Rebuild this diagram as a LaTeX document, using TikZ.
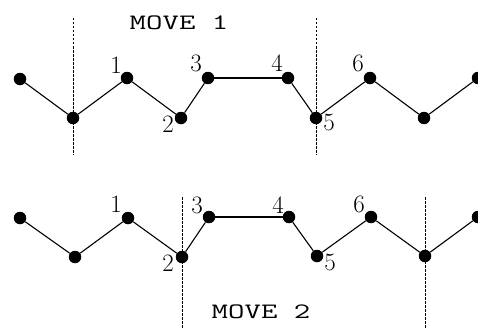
\documentclass[tikz,border=0pt]{standalone}
\usepackage{fontspec}
\usepackage{graphicx}
\begin{document}
\begin{tikzpicture}[x=1pt,y=-1pt,
  dot/.style={circle,fill=black,inner sep=0pt,minimum size=12.5pt},
  link/.style={line width=1.1pt},
  heavylink/.style={line width=2.3pt},
  cutline/.style={line width=1pt,dash pattern=on 2.5pt off 1.5pt},
  num/.style={inner sep=0pt,font=\fontsize{25}{25}\selectfont\addfontfeature{FakeBold=0.7}},
  title/.style={inner sep=0pt,font=\fontsize{22}{22}\selectfont\ttfamily\addfontfeature{FakeBold=1.2}}]
\useasboundingbox (0,0) rectangle (478,329);

% ---- first chain: cut lines
\coordinate (c1t) at (73,18);  \coordinate (c1b) at (73,155);
\coordinate (c2t) at (316,18); \coordinate (c2b) at (316,155);
\draw[cutline] (c1t) -- (c1b);
\draw[cutline] (c2t) -- (c2b);

% ---- first chain: beads
\node[dot] (a0) at (20,79) {};
\node[dot] (a1) at (73,118) {};
\node[dot] (a2) at (127,78) {};
\node[dot] (a3) at (181,118) {};
\node[dot] (a4) at (208,78) {};
\node[dot] (a5) at (288,78) {};
\node[dot] (a6) at (316,118) {};
\node[dot] (a7) at (370,78) {};
\node[dot] (a8) at (424,118) {};
\node[dot] (a9) at (478,78) {};
\draw[link] (a0) -- (a1) -- (a2) -- (a3) -- (a4);
\draw[heavylink] (a4) -- (a5);
\draw[link] (a5) -- (a6) -- (a7) -- (a8) -- (a9);

\node[num] (la1) at (116,65) {1};
\node[num] (la2) at (168,124) {2};
\node[num] (la3) at (196,63) {3};
\node[num] (la4) at (277,63) {4};
\node[num] (la5) at (329,122) {5};
\node[num] (la6) at (358,63) {6};
\node[title] (mv1) at (179,23) {\scalebox{1.45}[1]{MOVE 1}};

% ---- second chain: cut lines
\coordinate (d1t) at (182,197); \coordinate (d1b) at (182,329);
\coordinate (d2t) at (425,197); \coordinate (d2b) at (425,329);
\draw[cutline] (d1t) -- (d1b);
\draw[cutline] (d2t) -- (d2b);

% ---- second chain: beads
\node[dot] (b0) at (20,218) {};
\node[dot] (b1) at (75,257) {};
\node[dot] (b2) at (128,218) {};
\node[dot] (b3) at (182,257) {};
\node[dot] (b4) at (209,217) {};
\node[dot] (b5) at (289,217) {};
\node[dot] (b6) at (317,256) {};
\node[dot] (b7) at (371,217) {};
\node[dot] (b8) at (425,256) {};
\node[dot] (b9) at (478,217) {};
\draw[link] (b0) -- (b1) -- (b2) -- (b3) -- (b4);
\draw[heavylink] (b4) -- (b5);
\draw[link] (b5) -- (b6) -- (b7) -- (b8) -- (b9);

\node[num] (lb1) at (116,204) {1};
\node[num] (lb2) at (168,263) {2};
\node[num] (lb3) at (197,205) {3};
\node[num] (lb4) at (278,205) {4};
\node[num] (lb5) at (330,262) {5};
\node[num] (lb6) at (359,204) {6};
\node[title] (mv2) at (261,312) {\scalebox{1.45}[1]{MOVE 2}};
\end{tikzpicture}
\end{document}
